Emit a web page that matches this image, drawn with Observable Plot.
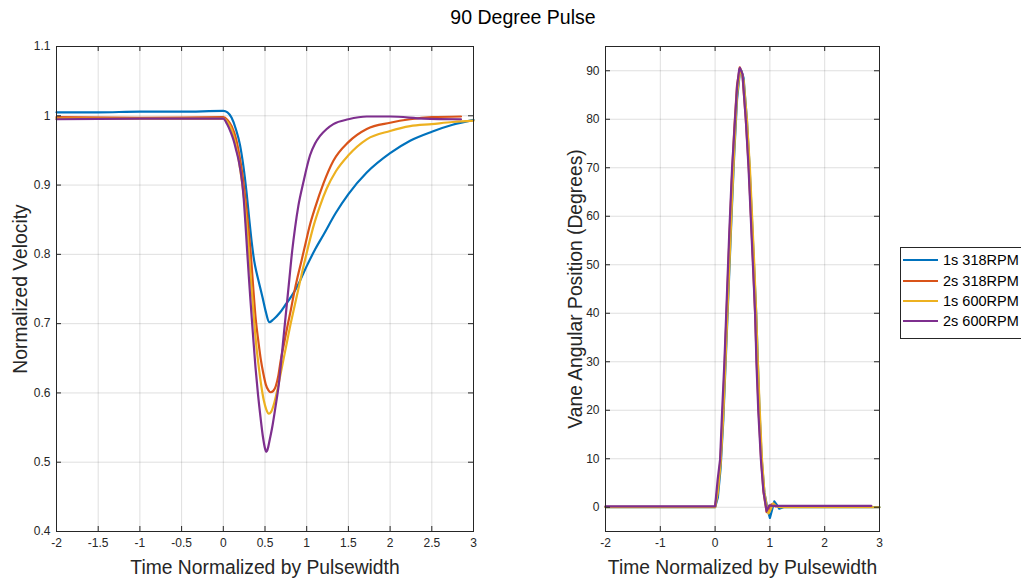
<!DOCTYPE html>
<html>
<head>
<meta charset="utf-8">
<script src="https://cdn.jsdelivr.net/npm/d3@7"></script>
<script src="https://cdn.jsdelivr.net/npm/@observablehq/plot@0.6"></script>
<style>
  body { margin: 0; background: #fff; }
  #fig { position: relative; width: 1021px; height: 579px; overflow: hidden; background: #fff;
         font-family: "Liberation Sans", Arial, Helvetica, sans-serif; color: #262626; }
  #title { position: absolute; left: 373px; width: 300px; top: 6px; text-align: center; font-size: 19.5px; color: #000; }
  #left { position: absolute; left: 0; top: 0; }
  #right { position: absolute; left: 490px; top: 0; }
  #legend { position: absolute; left: 900px; top: 247px; width: 140px; height: 92px; box-sizing: border-box;
            border: 1px solid #262626; background: #fff; }
  .row { position: absolute; left: 2px; height: 20px; display: flex; align-items: center; font-size: 14.5px; color: #000; white-space: nowrap; }
  .sw { width: 35px; height: 2px; margin-right: 5px; }
</style>
</head>
<body>
<div id="fig">
  <div id="title">90 Degree Pulse</div>
  <div id="left"></div>
  <div id="right"></div>
  <div id="legend"></div>
</div>
<script>
// ---- series / legend ----
const seriesNames = ["1s 318RPM", "2s 318RPM", "1s 600RPM", "2s 600RPM"];
const seriesColors = ["#0072BD", "#D95319", "#EDB120", "#7E2F8E"];

// ---- tick values ----
const xTicksLeft = [-2, -1.5, -1, -0.5, 0, 0.5, 1, 1.5, 2, 2.5, 3];
const yTicksLeft = [0.4, 0.5, 0.6, 0.7, 0.8, 0.9, 1, 1.1];
const xTicksRight = [-2, -1, 0, 1, 2, 3];
const yTicksRight = [0, 10, 20, 30, 40, 50, 60, 70, 80, 90];

// ---- left panel: normalized velocity [time, value] ----
const velocity1s318 = [[-2,1.005],[-1.5,1.005],[-1,1.006],[-0.5,1.006],[0,1.007],[0.05,1.005],[0.1,0.997],[0.15,0.981],[0.2,0.958],[0.24,0.928],[0.28,0.888],[0.31,0.852],[0.34,0.818],[0.37,0.791],[0.4,0.773],[0.43,0.758],[0.47,0.738],[0.51,0.717],[0.55,0.702],[0.6,0.706],[0.68,0.716],[0.75,0.728],[0.82,0.74],[0.9,0.757],[1.0,0.783],[1.1,0.807],[1.2,0.828],[1.35,0.86],[1.5,0.887],[1.72,0.918],[2.0,0.946],[2.24,0.964],[2.5,0.977],[2.75,0.987],[3.0,0.994]];
const velocity2s318 = [[-2,0.998],[-1,0.997],[0,0.998],[0.05,0.994],[0.1,0.985],[0.15,0.968],[0.19,0.945],[0.23,0.915],[0.27,0.875],[0.3,0.84],[0.33,0.8],[0.36,0.75],[0.39,0.705],[0.42,0.675],[0.45,0.648],[0.48,0.628],[0.51,0.612],[0.54,0.604],[0.566,0.601],[0.6,0.603],[0.63,0.61],[0.66,0.625],[0.69,0.648],[0.73,0.672],[0.77,0.697],[0.81,0.72],[0.85,0.745],[0.89,0.767],[0.94,0.792],[0.99,0.818],[1.04,0.843],[1.1,0.867],[1.2,0.902],[1.32,0.935],[1.5,0.962],[1.72,0.981],[2.0,0.99],[2.24,0.995],[2.5,0.998],[2.85,0.999]];
const velocity1s600 = [[-2,0.996],[-1,0.996],[0,0.996],[0.05,0.991],[0.1,0.98],[0.15,0.958],[0.2,0.925],[0.25,0.88],[0.28,0.845],[0.306,0.805],[0.336,0.755],[0.366,0.709],[0.396,0.668],[0.426,0.637],[0.456,0.61],[0.486,0.589],[0.516,0.576],[0.546,0.57],[0.575,0.573],[0.61,0.585],[0.646,0.603],[0.686,0.627],[0.726,0.651],[0.766,0.675],[0.806,0.699],[0.85,0.723],[0.9,0.75],[0.96,0.782],[1.02,0.812],[1.08,0.84],[1.16,0.87],[1.24,0.895],[1.35,0.92],[1.5,0.943],[1.72,0.966],[2.0,0.978],[2.24,0.985],[2.5,0.988],[2.75,0.991],[3.0,0.993]];
const velocity2s600 = [[-2,0.995],[-1,0.996],[0,0.996],[0.045,0.988],[0.09,0.976],[0.125,0.964],[0.155,0.95],[0.185,0.935],[0.225,0.905],[0.245,0.88],[0.265,0.845],[0.286,0.805],[0.306,0.768],[0.326,0.733],[0.356,0.684],[0.386,0.637],[0.416,0.598],[0.446,0.565],[0.476,0.536],[0.5,0.52],[0.514,0.515],[0.53,0.518],[0.556,0.532],[0.586,0.55],[0.626,0.58],[0.666,0.613],[0.696,0.648],[0.726,0.685],[0.756,0.721],[0.786,0.757],[0.826,0.805],[0.86,0.838],[0.9,0.87],[0.96,0.904],[1.04,0.943],[1.1,0.96],[1.16,0.971],[1.24,0.981],[1.32,0.988],[1.5,0.995],[1.72,0.999],[2.0,0.999],[2.4,0.996],[2.85,0.995]];

// ---- right panel: vane angular position (degrees) [time, value] ----
const angle1s318 = [[-2,0],[0,0],[0.05,2],[0.1,8],[0.15,18],[0.2,32],[0.25,46],[0.3,60],[0.35,73],[0.4,84],[0.45,89.5],[0.48,90],[0.52,88.5],[0.58,80],[0.63,70],[0.67,60],[0.71,50],[0.75,40],[0.78,30],[0.81,20],[0.85,10],[0.9,3],[0.96,-0.5],[1.0,-2.2],[1.04,-0.5],[1.08,1.2],[1.12,0.6],[1.17,-0.3],[1.25,0],[3,0]];
const angle2s318 = [[-2,0.1],[0,0.1],[0.05,4],[0.1,10],[0.15,22],[0.2,37],[0.25,52],[0.3,66],[0.35,78],[0.4,87],[0.45,90.7],[0.5,89],[0.56,80],[0.615,70],[0.655,60],[0.695,50],[0.73,40],[0.76,30],[0.795,20],[0.84,10],[0.885,3],[0.94,-1.0],[0.98,-0.5],[1.03,0.6],[1.1,0.2],[2.85,0.2]];
const angle1s600 = [[-2,0],[0,0],[0.05,3],[0.1,9],[0.15,19],[0.2,33],[0.25,47],[0.3,61],[0.35,74],[0.4,85],[0.45,89.8],[0.47,90.2],[0.52,88],[0.58,80],[0.635,70],[0.675,60],[0.715,50],[0.75,40],[0.78,30],[0.815,20],[0.855,10],[0.9,3],[0.95,-0.3],[0.975,-1.3],[1.02,-0.3],[1.06,0.8],[1.12,0.2],[1.2,0],[3,0]];
const angle2s600 = [[-2,0.2],[0,0.2],[0.047,5.7],[0.091,9.8],[0.127,19.4],[0.17,30],[0.2,39],[0.23,48],[0.26,57],[0.31,70],[0.364,80],[0.4,86.6],[0.44,90.3],[0.455,90.6],[0.5,89.3],[0.56,80],[0.61,70],[0.65,60],[0.69,50],[0.73,40],[0.755,29.6],[0.79,19.4],[0.836,9.8],[0.88,3.5],[0.94,-0.8],[0.99,0.4],[1.05,0.3],[2.85,0.3]];

const velocitySeries = [velocity1s318, velocity2s318, velocity1s600, velocity2s600];
const angleSeries = [angle1s318, angle2s318, angle1s600, angle2s600];

function toTable(list) {
  return list.flatMap((arr, i) => arr.map(([t, v]) => ({series: seriesNames[i], t, v})));
}

const H = 579, MT = 46, MB = 48;
const fmt = d => String(d);
const ink = "#262626";

function panel({data, xTicks, yTicks, xDomain, yDomain, ylabel, width, marginLeft, marginRight, ylabelOffset, curve}) {
  const innerH = H - MT - MB;
  const innerW = width - marginLeft - marginRight;
  return Plot.plot({
    width, height: H, marginLeft, marginRight, marginTop: MT, marginBottom: MB,
    x: {domain: xDomain, label: null},
    y: {domain: yDomain, label: null},
    color: {domain: seriesNames, range: seriesColors},
    style: {fontFamily: '"Liberation Sans", Arial, Helvetica, sans-serif', fontSize: "12px", color: ink, background: "transparent", overflow: "visible"},
    marks: [
      Plot.gridX(xTicks, {stroke: ink, strokeOpacity: 0.15}),
      Plot.gridY(yTicks, {stroke: ink, strokeOpacity: 0.15}),
      Plot.line(data, {x: "t", y: "v", z: "series", stroke: "series", strokeWidth: 2.2, curve, strokeLinejoin: "round"}),
      Plot.frame({stroke: ink, strokeWidth: 1}),
      Plot.tickX(xTicks, {x: d => d, insetTop: innerH - 5, stroke: ink}),
      Plot.tickX(xTicks, {x: d => d, insetBottom: innerH - 5, stroke: ink}),
      Plot.tickY(yTicks, {y: d => d, insetRight: innerW - 5, stroke: ink}),
      Plot.tickY(yTicks, {y: d => d, insetLeft: innerW - 5, stroke: ink}),
      Plot.axisX({ticks: xTicks, tickSize: 0, tickPadding: 7, tickFormat: fmt, fontSize: 12, fill: ink}),
      Plot.axisY({ticks: yTicks, tickSize: 0, tickPadding: 6, tickFormat: fmt, fontSize: 12, fill: ink}),
      Plot.text(["Time Normalized by Pulsewidth"], {text: d => d, frameAnchor: "bottom", dy: 36, fontSize: 19.3, fill: ink, textAnchor: "middle", lineAnchor: "middle"}),
      Plot.text([ylabel], {text: d => d, frameAnchor: "left", dx: -ylabelOffset, rotate: -90, fontSize: 19.3, fill: ink, textAnchor: "middle", lineAnchor: "middle"})
    ]
  });
}

document.getElementById("left").append(panel({
  data: toTable(velocitySeries), xTicks: xTicksLeft, yTicks: yTicksLeft,
  xDomain: [-2, 3], yDomain: [0.4, 1.1], ylabel: "Normalized Velocity",
  width: 490, marginLeft: 56, marginRight: 17, ylabelOffset: 36, curve: "monotone-x"
}));

document.getElementById("right").append(panel({
  data: toTable(angleSeries), xTicks: xTicksRight, yTicks: yTicksRight,
  xDomain: [-2, 3], yDomain: [-5, 95], ylabel: "Vane Angular Position (Degrees)",
  width: 531, marginLeft: 115, marginRight: 142, ylabelOffset: 30, curve: "linear"
}));

const legend = document.getElementById("legend");
const rowTops = [2, 23, 43, 63];
seriesNames.forEach((name, i) => {
  const row = document.createElement("div");
  row.className = "row";
  row.style.top = rowTops[i] + "px";
  const sw = document.createElement("div");
  sw.className = "sw";
  sw.style.background = seriesColors[i];
  const label = document.createElement("span");
  label.textContent = name;
  row.append(sw, label);
  legend.append(row);
});
</script>
</body>
</html>
